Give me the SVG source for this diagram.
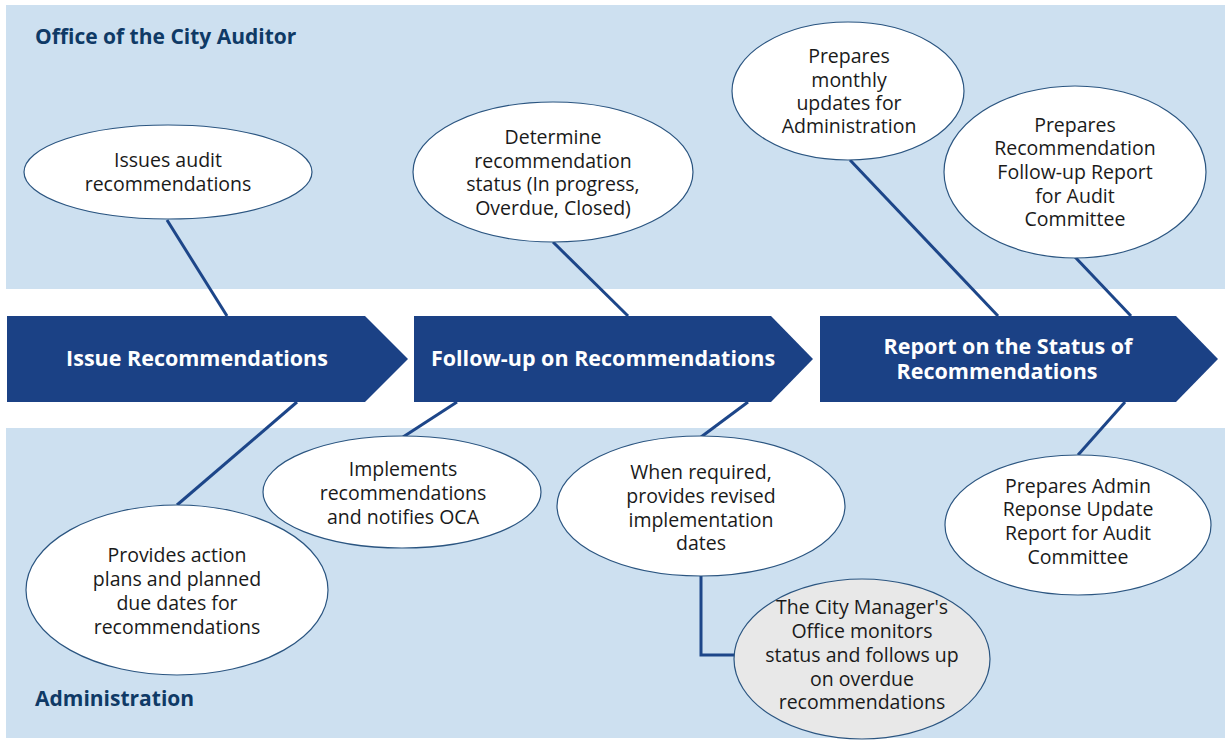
<svg xmlns="http://www.w3.org/2000/svg" width="1225" height="740" viewBox="0 0 1225 740">
<style>
.band{fill:#cde0f0}
.lane{font-family:"Open Sans","Liberation Sans",sans-serif;font-weight:bold;font-size:21px;fill:#0f3a66}
.arrow{fill:#1b4185}
.alabel{font-family:"Open Sans","Liberation Sans",sans-serif;font-weight:bold;font-size:21.5px;fill:#ffffff;text-anchor:middle}
.ell{fill:#ffffff;stroke:#2b5580;stroke-width:1.2}
.gray{fill:#e8e8e8}
.t{font-family:"Open Sans","Liberation Sans",sans-serif;font-size:19.5px;fill:#1a1a1a;text-anchor:middle}
.conn{fill:none;stroke:#1d4689;stroke-width:3}
</style>
<rect width="1225" height="740" fill="#ffffff"/>
<g id="lanes">
<rect class="band" x="6" y="5" width="1219" height="284"/>
<rect class="band" x="6" y="428" width="1219" height="310"/>
<text class="lane" x="35" y="44">Office of the City Auditor</text>
<text class="lane" x="35" y="706">Administration</text>
</g>
<g id="connectors">
<line class="conn" x1="167" y1="220" x2="227" y2="316"/>
<line class="conn" x1="553" y1="242" x2="628" y2="316"/>
<line class="conn" x1="850" y1="160" x2="998" y2="316"/>
<line class="conn" x1="1075" y1="257" x2="1131" y2="316"/>
<line class="conn" x1="177" y1="505" x2="297" y2="402"/>
<line class="conn" x1="403" y1="437" x2="457" y2="402"/>
<line class="conn" x1="701" y1="437" x2="748" y2="402"/>
<line class="conn" x1="1078" y1="455" x2="1125" y2="402"/>
<polyline class="conn" points="701,576 701,655 735,655"/>
</g>
<g id="step1">
<polygon class="arrow" points="7,316 365,316 408,359 365,402 7,402"/>
<text class="alabel" x="197" y="366">Issue Recommendations</text>
</g>
<g id="step2">
<polygon class="arrow" points="414,316 771,316 813,359 771,402 414,402"/>
<text class="alabel" x="603" y="366">Follow-up on Recommendations</text>
</g>
<g id="step3">
<polygon class="arrow" points="820,316 1176,316 1218,359 1176,402 820,402"/>
<text class="alabel" x="1008" y="354">Report on the Status of</text>
<text class="alabel" x="997" y="379">Recommendations</text>
</g>
<g id="n-issues">
<ellipse class="ell" cx="168" cy="172" rx="144" ry="47"/>
<text class="t" x="168" y="167">Issues audit</text>
<text class="t" x="168" y="191">recommendations</text>
</g>
<g id="n-determine">
<ellipse class="ell" cx="553" cy="172" rx="140" ry="70"/>
<text class="t" x="553" y="144">Determine</text>
<text class="t" x="553" y="168">recommendation</text>
<text class="t" x="553" y="191">status (In progress,</text>
<text class="t" x="553" y="215">Overdue, Closed)</text>
</g>
<g id="n-monthly">
<ellipse class="ell" cx="848" cy="91" rx="116" ry="69"/>
<text class="t" x="849" y="63">Prepares</text>
<text class="t" x="849" y="87">monthly</text>
<text class="t" x="849" y="110">updates for</text>
<text class="t" x="849" y="133">Administration</text>
</g>
<g id="n-followup-report">
<ellipse class="ell" cx="1075" cy="172" rx="131" ry="86"/>
<text class="t" x="1075" y="132">Prepares</text>
<text class="t" x="1075" y="155">Recommendation</text>
<text class="t" x="1075" y="179">Follow-up Report</text>
<text class="t" x="1075" y="203">for Audit</text>
<text class="t" x="1075" y="226">Committee</text>
</g>
<g id="n-provides">
<ellipse class="ell" cx="177" cy="590" rx="151" ry="85"/>
<text class="t" x="177" y="562">Provides action</text>
<text class="t" x="177" y="586">plans and planned</text>
<text class="t" x="177" y="610">due dates for</text>
<text class="t" x="177" y="634">recommendations</text>
</g>
<g id="n-implements">
<ellipse class="ell" cx="402" cy="492" rx="139" ry="56"/>
<text class="t" x="403" y="476">Implements</text>
<text class="t" x="403" y="500">recommendations</text>
<text class="t" x="403" y="524">and notifies OCA</text>
</g>
<g id="n-revised">
<ellipse class="ell" cx="701" cy="506" rx="144" ry="70"/>
<text class="t" x="701" y="479">When required,</text>
<text class="t" x="701" y="503">provides revised</text>
<text class="t" x="701" y="527">implementation</text>
<text class="t" x="701" y="550">dates</text>
</g>
<g id="n-citymanager">
<ellipse class="ell gray" cx="862" cy="659" rx="128" ry="80"/>
<text class="t" x="862" y="614">The City Manager's</text>
<text class="t" x="862" y="638">Office monitors</text>
<text class="t" x="862" y="662">status and follows up</text>
<text class="t" x="862" y="686">on overdue</text>
<text class="t" x="862" y="709">recommendations</text>
</g>
<g id="n-admin-report">
<ellipse class="ell" cx="1078" cy="525" rx="133" ry="70"/>
<text class="t" x="1078" y="493">Prepares Admin</text>
<text class="t" x="1078" y="516">Reponse Update</text>
<text class="t" x="1078" y="540">Report for Audit</text>
<text class="t" x="1078" y="564">Committee</text>
</g>
</svg>
